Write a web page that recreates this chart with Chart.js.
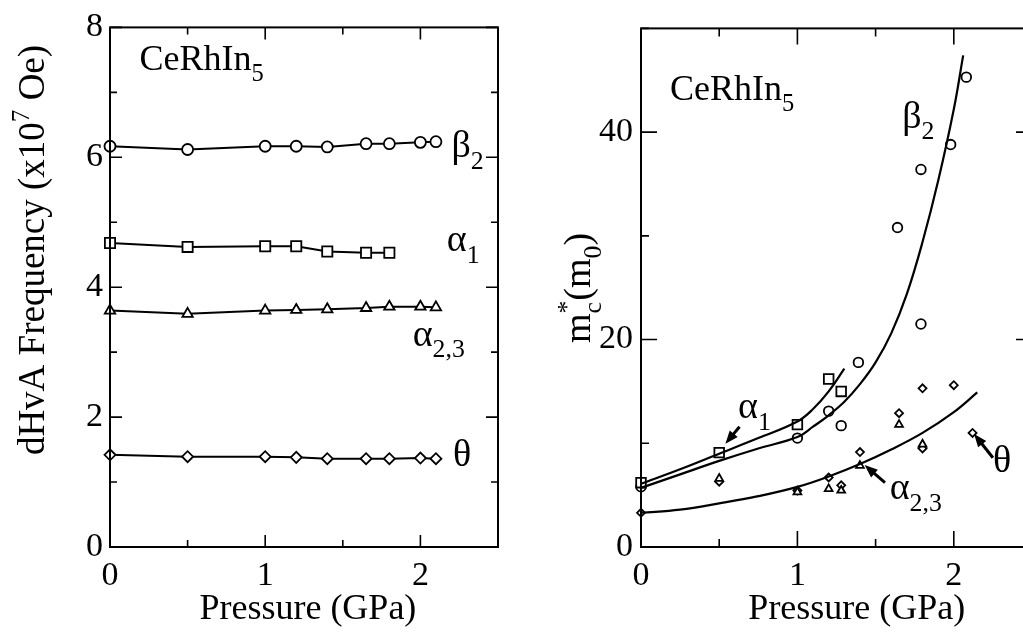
<!DOCTYPE html>
<html>
<head>
<meta charset="utf-8">
<script src="https://cdn.jsdelivr.net/npm/chart.js@4.4.0/dist/chart.umd.min.js"></script>
<style>
html, body { margin: 0; padding: 0; background: #fff; overflow: hidden; width: 1023px; height: 640px; }
.panel { position: absolute; top: 0; width: 520px; height: 640px; }
#left { left: 0; }
#right { left: 530px; }
</style>
</head>
<body>
<div class="panel" id="left"><canvas id="freqChart" width="520" height="640"></canvas></div>
<div class="panel" id="right"><canvas id="massChart" width="520" height="640"></canvas></div>
<script>
// left panel: dHvA frequencies vs pressure
const freqPressure = [0, 0.5, 1.0, 1.2, 1.4, 1.65, 1.8, 2.0, 2.1];
const freqBeta2 = [6.17, 6.12, 6.17, 6.17, 6.16, 6.21, 6.21, 6.23, 6.24];
const freqAlpha1Pressure = [0, 0.5, 1.0, 1.2, 1.4, 1.65, 1.8];
const freqAlpha1 = [4.68, 4.62, 4.63, 4.63, 4.55, 4.53, 4.53];
const freqAlpha23 = [3.64, 3.59, 3.64, 3.65, 3.66, 3.68, 3.70, 3.70, 3.69];
const freqTheta = [1.42, 1.39, 1.39, 1.38, 1.36, 1.36, 1.36, 1.37, 1.36];

// right panel: cyclotron masses vs pressure
const massBeta2P = [0, 1.0, 1.2, 1.28, 1.39, 1.64, 1.79, 1.79, 1.98, 2.08];
const massBeta2 = [5.8, 10.5, 13.1, 11.7, 17.8, 30.8, 36.4, 21.5, 38.8, 45.3];
const massAlpha1P = [0, 0.5, 1.0, 1.2, 1.28];
const massAlpha1 = [6.2, 9.1, 11.8, 16.2, 15.0];
const massAlpha23P = [0.5, 1.0, 1.2, 1.28, 1.4, 1.65, 1.8];
const massAlpha23 = [6.6, 5.3, 5.6, 5.45, 7.85, 11.8, 9.9];
const massThetaP = [0, 0.5, 1.0, 1.2, 1.28, 1.4, 1.65, 1.8, 1.8, 2.0, 2.12];
const massTheta = [3.3, 6.3, 5.45, 6.7, 5.95, 9.15, 12.9, 15.3, 9.5, 15.6, 11.0];

// guide curves drawn through the masses
const fitBeta2P = [0, 0.25, 0.5, 0.75, 1.0, 1.1, 1.2, 1.3, 1.4, 1.5, 1.6, 1.7, 1.8, 1.9, 2.0, 2.06];
const fitBeta2 = [5.7, 7.0, 8.3, 9.5, 10.6, 11.6, 12.7, 14.0, 15.7, 17.8, 20.6, 24.4, 29.4, 35.3, 42.2, 47.4];
const fitAlpha1P = [0, 0.25, 0.5, 0.75, 1.0, 1.1, 1.2, 1.3];
const fitAlpha1 = [6.1, 7.5, 9.0, 10.5, 12.1, 13.3, 15.0, 17.2];
const fitLowP = [0, 0.25, 0.5, 0.75, 1.0, 1.2, 1.4, 1.6, 1.8, 2.0, 2.15];
const fitLow = [3.3, 3.6, 4.2, 4.9, 5.8, 6.8, 8.0, 9.4, 11.0, 13.0, 14.9];

const serif = '"Liberation Serif", "Times New Roman", serif';

function pts(xs, ys) {
    return xs.map((v, i) => ({ x: v, y: ys[i] }));
}

function fontFor(p, size) {
    const s = p.k ? size * 0.68 : size;
    return s.toFixed(1) + 'px ' + serif;
}

function richWidth(ctx, parts, size) {
    let w = 0, held = 0;
    for (const p of parts) {
        ctx.font = fontFor(p, size);
        const pw = ctx.measureText(p.t).width;
        if (p.hold) { held = pw; } else { w += Math.max(pw, held); held = 0; }
    }
    return w;
}

function drawRich(ctx, parts, x, y, size, align) {
    let cx = align === 'center' ? x - richWidth(ctx, parts, size) / 2 : x;
    let held = 0;
    ctx.textAlign = 'left';
    ctx.textBaseline = 'alphabetic';
    for (const p of parts) {
        ctx.font = fontFor(p, size);
        const dy = p.k === 'sub' ? size * 0.3 : p.k === 'sup' ? -size * 0.4 : 0;
        ctx.fillText(p.t, cx, y + dy);
        const pw = ctx.measureText(p.t).width;
        if (p.hold) { held = pw; } else { cx += Math.max(pw, held); held = 0; }
    }
}

function arrow(ctx, x0, y0, x1, y1) {
    const ang = Math.atan2(y1 - y0, x1 - x0);
    const head = 14;
    ctx.beginPath();
    ctx.moveTo(x0, y0);
    ctx.lineTo(x1 - Math.cos(ang) * head * 0.8, y1 - Math.sin(ang) * head * 0.8);
    ctx.lineWidth = 3;
    ctx.stroke();
    ctx.beginPath();
    ctx.moveTo(x1, y1);
    ctx.lineTo(x1 - head * Math.cos(ang - 0.38), y1 - head * Math.sin(ang - 0.38));
    ctx.lineTo(x1 - head * Math.cos(ang + 0.38), y1 - head * Math.sin(ang + 0.38));
    ctx.closePath();
    ctx.fill();
}

// frame with inward ticks on all four sides, labels, arrows and axis titles
const frameTicks = {
    id: 'frameTicks',
    afterDatasetsDraw(chart, args, o) {
        const { ctx, chartArea: a, scales: { x, y } } = chart;
        ctx.save();
        ctx.strokeStyle = '#000';
        ctx.fillStyle = '#000';
        ctx.lineWidth = 2;
        ctx.strokeRect(a.left, a.top, a.right - a.left, a.bottom - a.top);
        ctx.lineWidth = 1.6;
        ctx.beginPath();
        for (const t of x.ticks) {
            const px = x.getPixelForValue(t.value);
            const len = Math.abs(t.value / o.xMajor - Math.round(t.value / o.xMajor)) < 1e-6 ? o.major : o.minor;
            ctx.moveTo(px, a.bottom); ctx.lineTo(px, a.bottom - len);
            ctx.moveTo(px, a.top); ctx.lineTo(px, a.top + len);
        }
        for (const t of y.ticks) {
            const py = y.getPixelForValue(t.value);
            const len = Math.abs(t.value / o.yMajor - Math.round(t.value / o.yMajor)) < 1e-6 ? o.major : o.minor;
            ctx.moveTo(a.left, py); ctx.lineTo(a.left + len, py);
            ctx.moveTo(a.right, py); ctx.lineTo(a.right - len, py);
        }
        ctx.stroke();

        for (const n of o.notes) {
            drawRich(ctx, n.parts, x.getPixelForValue(n.x), y.getPixelForValue(n.y), n.size, 'left');
        }
        for (const r of o.arrows) {
            arrow(ctx, x.getPixelForValue(r[0]), y.getPixelForValue(r[1]),
                x.getPixelForValue(r[2]), y.getPixelForValue(r[3]));
        }

        // axis titles (positions in canvas pixels)
        drawRich(ctx, [{ t: 'Pressure (GPa)' }], a.left + (a.right - a.left) * o.xTitleAt, o.xTitleY, 36, 'center');
        ctx.save();
        ctx.translate(o.yTitleX, o.yTitleY);
        ctx.rotate(-Math.PI / 2);
        drawRich(ctx, o.yTitle, 0, 0, o.yTitleSize, 'center');
        ctx.restore();
        ctx.restore();
    }
};

function xAxis(max) {
    return {
        type: 'linear', min: 0, max: max,
        grid: { display: false, drawTicks: false },
        border: { display: false },
        afterFit: s => { s.height = 640 - 547; },
        ticks: {
            stepSize: 0.5, autoSkip: false, maxRotation: 0, padding: 9, color: '#000',
            font: { family: serif, size: 34 },
            callback: v => Number.isInteger(v) ? v : ''
        }
    };
}

function markers(style, radius) {
    return {
        pointStyle: style, pointRadius: radius, pointHoverRadius: radius,
        pointBackgroundColor: '#fff', pointBorderColor: '#000', pointBorderWidth: 1.8,
        borderColor: '#000', backgroundColor: '#fff', clip: false
    };
}

function connected(data, style, radius) {
    return Object.assign({ data: data, borderWidth: 2, showLine: true, tension: 0 }, markers(style, radius));
}

function scatterSet(data, style, radius) {
    return Object.assign({ data: data, showLine: false }, markers(style, radius));
}

function curve(data) {
    return {
        data: data, showLine: true, borderColor: '#000', borderWidth: 2.2,
        pointRadius: 0, pointHoverRadius: 0, tension: 0.4, clip: false
    };
}

const g = (t, k) => ({ t: t, k: k });

new Chart(document.getElementById('freqChart'), {
    type: 'scatter',
    data: {
        datasets: [
            connected(pts(freqPressure, freqBeta2), 'circle', 5.5),
            connected(pts(freqAlpha1Pressure, freqAlpha1), 'rect', 7.2),
            connected(pts(freqPressure, freqAlpha23), 'triangle', 6),
            connected(pts(freqPressure, freqTheta), 'rectRot', 5.5)
        ]
    },
    options: {
        responsive: false, animation: false,
        layout: { padding: { top: 25, right: 22, left: 0, bottom: 0 } },
        plugins: {
            legend: { display: false }, tooltip: { enabled: false },
            frameTicks: {
                xMajor: 1, yMajor: 2, major: 12, minor: 7,
                xTitleAt: 0.51, xTitleY: 619,
                yTitleX: 44, yTitleY: 250, yTitleSize: 37,
                yTitle: [g('dHvA Frequency (x10'), g('7', 'sup'), g(' Oe)')],
                notes: [
                    { parts: [g('CeRhIn'), g('5', 'sub')], x: 0.19, y: 7.34, size: 36 },
                    { parts: [g('\u03b2'), g('2', 'sub')], x: 2.2, y: 6.0, size: 38 },
                    { parts: [g('\u03b1'), g('1', 'sub')], x: 2.17, y: 4.55, size: 38 },
                    { parts: [g('\u03b1'), g('2,3', 'sub')], x: 1.95, y: 3.1, size: 38 },
                    { parts: [g('\u03b8')], x: 2.21, y: 1.24, size: 38 }
                ],
                arrows: []
            }
        },
        scales: {
            x: xAxis(2.5),
            y: {
                type: 'linear', min: 0, max: 8,
                grid: { display: false, drawTicks: false },
                border: { display: false },
                afterFit: s => { s.width = 110; },
                ticks: {
                    stepSize: 1, padding: 7, color: '#000',
                    font: { family: serif, size: 34 },
                    callback: v => v % 2 === 0 ? v : ''
                }
            }
        }
    },
    plugins: [frameTicks]
});

new Chart(document.getElementById('massChart'), {
    type: 'scatter',
    data: {
        datasets: [
            curve(pts(fitBeta2P, fitBeta2)),
            curve(pts(fitAlpha1P, fitAlpha1)),
            curve(pts(fitLowP, fitLow)),
            scatterSet(pts(massAlpha23P, massAlpha23), 'triangle', 4.5),
            scatterSet(pts(massThetaP, massTheta), 'rectRot', 4),
            scatterSet(pts(massAlpha1P, massAlpha1), 'rect', 6.8),
            scatterSet(pts(massBeta2P, massBeta2), 'circle', 4.8)
        ]
    },
    options: {
        responsive: false, animation: false,
        layout: { padding: { top: 25, right: 18, left: 0, bottom: 0 } },
        plugins: {
            legend: { display: false }, tooltip: { enabled: false },
            frameTicks: {
                xMajor: 1, yMajor: 20, major: 16, minor: 8,
                xTitleAt: 0.552, xTitleY: 619,
                yTitleX: 60, yTitleY: 288, yTitleSize: 38,
                yTitle: [g('m'), { t: '*', k: 'sup', hold: true }, g('c', 'sub'), g('(m'), g('0', 'sub'), g(')')],
                notes: [
                    { parts: [g('CeRhIn'), g('5', 'sub')], x: 0.185, y: 43.1, size: 36 },
                    { parts: [g('\u03b2'), g('2', 'sub')], x: 1.67, y: 40.4, size: 38 },
                    { parts: [g('\u03b1'), g('1', 'sub')], x: 0.62, y: 12.4, size: 38 },
                    { parts: [g('\u03b1'), g('2,3', 'sub')], x: 1.59, y: 4.6, size: 38 },
                    { parts: [g('\u03b8')], x: 2.25, y: 7.2, size: 38 }
                ],
                arrows: [
                    [0.63, 11.6, 0.54, 9.95],
                    [1.56, 6.2, 1.43, 7.9],
                    [2.25, 8.6, 2.13, 10.9]
                ]
            }
        },
        scales: {
            x: xAxis(2.5),
            y: {
                type: 'linear', min: 0, max: 50,
                grid: { display: false, drawTicks: false },
                border: { display: false },
                afterFit: s => { s.width = 111; },
                ticks: {
                    stepSize: 10, padding: 8, color: '#000',
                    font: { family: serif, size: 34 },
                    callback: v => v % 20 === 0 ? v : ''
                }
            }
        }
    },
    plugins: [frameTicks]
});
</script>
</body>
</html>
